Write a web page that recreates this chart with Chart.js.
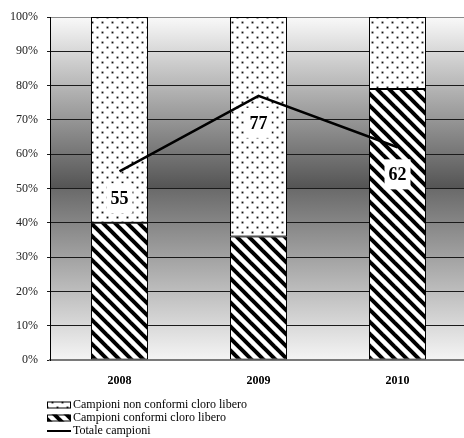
<!DOCTYPE html>
<html>
<head>
<meta charset="utf-8">
<script src="https://cdn.jsdelivr.net/npm/chart.js@4/dist/chart.umd.min.js"></script>
<style>
  html, body { margin: 0; padding: 0; background: #fff; overflow: hidden; }
  #wrap { width: 464px; height: 438px; overflow: hidden; }
</style>
</head>
<body>
<div id="wrap"><canvas id="c" width="467" height="438"></canvas></div>
<script>
// Anni di campionamento
const years = ['2008', '2009', '2010'];
// Percentuale di campioni conformi / non conformi per il cloro libero
const conformi = [40, 36, 79];
const nonConformi = [60, 64, 21];
// Numero totale di campioni per anno
const totaleCampioni = [55, 77, 62];
// Etichette dell'asse verticale
const yTicks = [0, 10, 20, 30, 40, 50, 60, 70, 80, 90, 100];

const SERIF = '"Liberation Serif", "Times New Roman", serif';

function dotPattern() {
  const t = document.createElement('canvas');
  t.width = 10; t.height = 10;
  const g = t.getContext('2d');
  g.fillStyle = '#fff';
  g.fillRect(0, 0, 10, 10);
  g.fillStyle = '#3a3a3a';
  g.fillRect(1.5, 1.5, 2, 2);
  g.fillRect(6.5, 6.5, 2, 2);
  g.fillStyle = '#111';
  g.fillRect(2, 2, 1, 1);
  g.fillRect(7, 7, 1, 1);
  return g.createPattern(t, 'repeat');
}

function hatchPattern() {
  const s = 12;
  const t = document.createElement('canvas');
  t.width = s; t.height = s;
  const g = t.getContext('2d');
  g.fillStyle = '#fff';
  g.fillRect(0, 0, s, s);
  g.strokeStyle = '#000';
  g.lineWidth = 4;
  for (let k = -1; k <= 1; k++) {
    g.beginPath();
    g.moveTo(k * s - 2, -2);
    g.lineTo(k * s + s + 2, s + 2);
    g.stroke();
  }
  return g.createPattern(t, 'repeat');
}

const ctx = document.getElementById('c').getContext('2d');
const dots = dotPattern();
const hatch = hatchPattern();

// Sfondo sfumato dell'area del grafico
const gradientBg = {
  id: 'gradientBg',
  beforeDraw(chart) {
    const { ctx, chartArea: a } = chart;
    const gr = ctx.createLinearGradient(0, a.top, 0, a.bottom);
    gr.addColorStop(0, '#f9f9f9');
    gr.addColorStop(0.499, '#545454');
    gr.addColorStop(0.5, '#6a6a6a');
    gr.addColorStop(1, '#f5f5f5');
    ctx.save();
    ctx.fillStyle = gr;
    ctx.fillRect(a.left, a.top, a.right - a.left, a.bottom - a.top);
    ctx.restore();
  }
};

// Etichette dei valori del totale, con riquadro bianco sotto il punto
const totalLabels = {
  id: 'totalLabels',
  afterDatasetsDraw(chart) {
    const { ctx } = chart;
    const idx = chart.data.datasets.findIndex(d => d.type === 'line');
    const meta = chart.getDatasetMeta(idx);
    const values = chart.data.datasets[idx].data;
    ctx.save();
    ctx.font = 'bold 18px ' + SERIF;
    ctx.textAlign = 'center';
    ctx.textBaseline = 'middle';
    meta.data.forEach((pt, i) => {
      const txt = String(values[i]);
      const w = ctx.measureText(txt).width + 8;
      const h = 30;
      const cx = pt.x, cy = pt.y + 27;
      ctx.fillStyle = '#fff';
      ctx.fillRect(cx - w / 2, cy - h / 2, w, h);
      ctx.fillStyle = '#000';
      ctx.fillText(txt, cx, cy + 1);
    });
    ctx.restore();
  }
};

// Legenda verticale sotto il grafico
const stackedLegend = {
  id: 'stackedLegend',
  afterDraw(chart) {
    const { ctx, chartArea: a } = chart;
    const order = [1, 0, 2];
    const x0 = 47, boxW = 24, boxH = 7;
    ctx.save();
    ctx.font = '12px ' + SERIF;
    ctx.textBaseline = 'middle';
    ctx.textAlign = 'left';
    order.forEach((di, row) => {
      const ds = chart.data.datasets[di];
      const y = a.bottom + 45 + row * 13;
      if (ds.type === 'line') {
        ctx.strokeStyle = '#000';
        ctx.lineWidth = 2;
        ctx.beginPath();
        ctx.moveTo(x0, y);
        ctx.lineTo(x0 + boxW, y);
        ctx.stroke();
      } else {
        ctx.fillStyle = ds.backgroundColor;
        ctx.fillRect(x0, y - boxH / 2, boxW, boxH);
        ctx.strokeStyle = '#000';
        ctx.lineWidth = 1;
        ctx.strokeRect(x0 + 0.5, y - boxH / 2 + 0.5, boxW - 1, boxH - 1);
      }
      ctx.fillStyle = '#000';
      ctx.fillText(ds.label, x0 + boxW + 2, y);
    });
    ctx.restore();
  }
};

new Chart(ctx, {
  data: {
    labels: years,
    datasets: [
      {
        type: 'bar',
        label: 'Campioni conformi cloro libero',
        data: conformi,
        backgroundColor: hatch,
        borderColor: '#000',
        borderWidth: 1,
        borderSkipped: false,
        order: 2
      },
      {
        type: 'bar',
        label: 'Campioni non conformi cloro libero',
        data: nonConformi,
        backgroundColor: dots,
        borderColor: '#000',
        borderWidth: 1,
        borderSkipped: false,
        order: 2
      },
      {
        type: 'line',
        label: 'Totale campioni',
        data: totaleCampioni,
        borderColor: '#000',
        borderWidth: 2.6,
        pointRadius: 0,
        tension: 0,
        order: 0
      }
    ]
  },
  options: {
    responsive: false,
    animation: false,
    devicePixelRatio: 1,
    layout: { padding: { top: 17, right: 0, bottom: 0, left: 0 } },
    datasets: {
      bar: { categoryPercentage: 1, barPercentage: 0.41 }
    },
    plugins: {
      legend: { display: false },
      tooltip: { enabled: false }
    },
    scales: {
      x: {
        stacked: true,
        grid: { display: false, drawTicks: false },
        border: { display: true, color: '#7a7a7a', width: 2 },
        ticks: {
          padding: 14,
          color: '#000',
          font: { family: SERIF, size: 12, weight: 'bold' }
        },
        afterFit(s) { s.height = 78; }
      },
      y: {
        stacked: true,
        min: 0,
        max: 100,
        afterBuildTicks(s) { s.ticks = yTicks.map(v => ({ value: v })); },
        grid: {
          color: c => (c.tick && c.tick.value === 100 ? '#8a8a8a' : '#1a1a1a'),
          lineWidth: 1,
          tickLength: 3,
          tickColor: '#1a1a1a'
        },
        border: { display: true, color: '#000', width: 1 },
        ticks: {
          padding: 9,
          color: '#222',
          font: { family: SERIF, size: 12 },
          callback: v => v + '%'
        },
        afterFit(s) { s.width = 50; }
      }
    }
  },
  plugins: [gradientBg, totalLabels, stackedLegend]
});
</script>
</body>
</html>
